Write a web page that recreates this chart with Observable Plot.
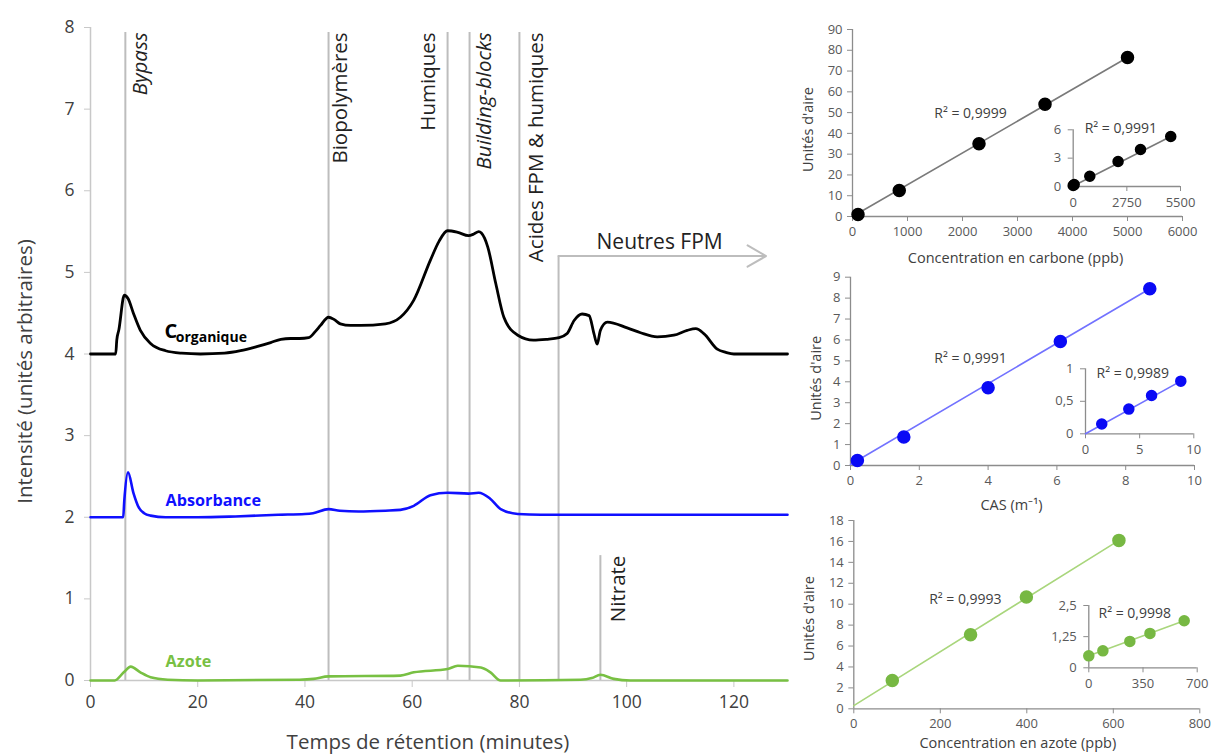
<!DOCTYPE html>
<html><head><meta charset="utf-8">
<script src="https://cdn.jsdelivr.net/npm/d3@7"></script>
<script src="https://cdn.jsdelivr.net/npm/@observablehq/plot@0.6"></script>
<style>
body{margin:0;background:#fff;}
#fig{position:relative;width:1211px;height:755px;overflow:hidden;background:#fff;}
#fig svg{position:absolute;overflow:visible;}
</style></head><body><div id="fig"></div>
<script>
// ---------- Chromatogram data (time in minutes, intensity in arbitrary units) ----------
const corgT = [0, 4.7, 4.9, 5.3, 6.3, 7.0, 8.0, 9.3, 11.2, 14, 17, 20.5, 25, 28, 31, 33.6, 35.5, 37.3, 39, 40.7, 42, 42.9, 44.4, 45.5, 46.6, 48.5, 50.4, 55, 57.8, 60.3, 63.4, 65, 66.6, 68.5, 70.5, 71.5, 72.4, 73.5, 74.1, 75.6, 77.1, 79.7, 82.6, 85, 87.4, 88.9, 90.2, 91.7, 93.0, 93.9, 94.5, 95.1, 96.4, 100.1, 102.6, 105.7, 108.8, 111.3, 112.9, 114.4, 116.9, 118.5, 120, 130];
const corgV = [4.0, 4.0, 4.17, 4.3, 4.72, 4.68, 4.5, 4.29, 4.13, 4.04, 4.01, 4.0, 4.01, 4.04, 4.09, 4.14, 4.18, 4.19, 4.19, 4.2, 4.28, 4.35, 4.45, 4.42, 4.37, 4.35, 4.35, 4.37, 4.45, 4.66, 5.15, 5.38, 5.51, 5.49, 5.45, 5.47, 5.5, 5.42, 5.31, 4.86, 4.45, 4.23, 4.17, 4.18, 4.2, 4.25, 4.41, 4.49, 4.47, 4.25, 4.12, 4.29, 4.39, 4.32, 4.26, 4.21, 4.23, 4.29, 4.31, 4.25, 4.06, 4.02, 4.0, 4.0];
const absT = [0, 6.1, 6.3, 7.0, 8.0, 9.0, 10.0, 11.2, 14, 20, 27, 35, 40, 41.5, 44.4, 46.5, 50, 55, 57.8, 60.3, 63.4, 66.6, 70.5, 72.4, 74.5, 76.5, 79.7, 84, 130];
const absV = [2.0, 2.0, 2.2, 2.55, 2.3, 2.12, 2.05, 2.02, 2.0, 2.0, 2.01, 2.03, 2.04, 2.05, 2.1, 2.08, 2.07, 2.08, 2.09, 2.14, 2.27, 2.3, 2.29, 2.3, 2.23, 2.1, 2.04, 2.03, 2.03];
const azoT = [0, 4.5, 6.2, 7.5, 9.3, 11.2, 14.4, 20, 39, 41.6, 44.4, 57.8, 60.3, 66.6, 68.5, 72.8, 74.6, 76.5, 91.4, 93.5, 95.1, 97.6, 100.7, 130];
const azoV = [0, 0, 0.1, 0.17, 0.1, 0.04, 0.01, 0, 0.01, 0.02, 0.05, 0.06, 0.1, 0.14, 0.18, 0.16, 0.1, 0.0, 0.01, 0.03, 0.07, 0.02, 0.0, 0.0];

// Fraction boundaries and labels
const fractionNames = ["Bypass", "Biopolymères", "Humiques", "Building-blocks", "Acides FPM & humiques"];
const fractionTimes = [6.5, 44.4, 66.6, 70.7, 80.0];
const fractionLabelTimes = [9.3, 46.6, 63.1, 73.5, 83.2];
const fractionItalic = [true, false, false, true, false];
const fractionTop = 7.94;
const neutresLabel = "Neutres FPM";
const neutresTime = 87.3, neutresArrowEnd = 126, neutresLevel = 5.2;
const nitrateLabel = "Nitrate";
const nitrateTime = 95.1, nitrateTop = 1.53, nitrateLabelTime = 98.5;

const mainXTicks = [0, 20, 40, 60, 80, 100, 120];
const mainYTicks = [0, 1, 2, 3, 4, 5, 6, 7, 8];

// ---------- Calibration data ----------
const carbonX = [100, 850, 2300, 3500, 5000];
const carbonY = [1.0, 12.5, 35, 54, 76.5];
const carbonFitX = [0, 5000], carbonFitY = [0, 76.5];
const carbonInsetX = [0, 50, 850, 2300, 3450, 5000];
const carbonInsetY = [0.1, 0.2, 1.09, 2.65, 3.92, 5.29];
const carbonInsetFitX = [0, 5000], carbonInsetFitY = [0.05, 5.29];

const casX = [0.2, 1.55, 4.0, 6.1, 8.7];
const casY = [0.24, 1.36, 3.72, 5.93, 8.45];
const casFitX = [0, 8.7], casFitY = [0.05, 8.45];
const casInsetX = [1.5, 4.0, 6.1, 8.8];
const casInsetY = [0.15, 0.38, 0.59, 0.81];
const casInsetFitX = [0, 8.8], casInsetFitY = [0, 0.81];

const azoteX = [89, 270, 399, 613];
const azoteY = [2.7, 7.07, 10.68, 16.1];
const azoteFitX = [0, 613], azoteFitY = [0.3, 16.1];
const azoteInsetX = [0, 91, 265, 395, 616];
const azoteInsetY = [0.48, 0.68, 1.06, 1.38, 1.89];
const azoteInsetFitX = [0, 616], azoteInsetFitY = [0.48, 1.89];

const FONT = "Open Sans";
const fig = document.getElementById("fig");
const zip = (xs, ys) => xs.map((x, i) => ({x, y: ys[i]}));
const fr = d => String(d).replace(".", ",");
function place(svg, left, top) {
  svg.style.left = left + "px"; svg.style.top = top + "px";
  fig.appendChild(svg);
}

// ---------- Main chromatogram ----------
const fractions = fractionNames.map((n, i) => ({n, t: fractionTimes[i], lt: fractionLabelTimes[i], it: fractionItalic[i]}));
const LBL = 20.5;
const main = Plot.plot({
  width: 800, height: 755,
  marginLeft: 90, marginRight: 13, marginTop: 27, marginBottom: 75,
  x: {domain: [0, 130]},
  y: {domain: [0, 8]},
  style: {fontFamily: FONT, background: "transparent", overflow: "visible"},
  marks: [
    Plot.ruleX(fractions, {x: "t", y1: 0, y2: fractionTop, stroke: "#bdbdbd", strokeWidth: 2}),
    Plot.ruleX([nitrateTime], {y1: 0, y2: nitrateTop, stroke: "#bdbdbd", strokeWidth: 2}),
    Plot.ruleX([neutresTime], {y1: 0, y2: neutresLevel, stroke: "#bdbdbd", strokeWidth: 2}),
    Plot.arrow([0], {x1: neutresTime, y1: neutresLevel, x2: neutresArrowEnd, y2: neutresLevel, stroke: "#bdbdbd", strokeWidth: 2, headLength: 16, bend: 0, insetStart: 0, insetEnd: 0}),
    Plot.ruleY([0], {x1: 0, x2: 130, stroke: "#c8c8c8", strokeWidth: 1.5}),
    Plot.ruleX([0], {y1: 0, y2: 8, stroke: "#c8c8c8", strokeWidth: 1.5}),
    Plot.axisX({ticks: mainXTicks, tickSize: 7, tickPadding: 8, stroke: "#c8c8c8", color: "#404040", fontSize: 17.5, label: null}),
    Plot.axisY({ticks: mainYTicks, tickSize: 6, tickPadding: 10, stroke: "#c8c8c8", color: "#404040", fontSize: 17.5, label: null}),
    Plot.text(["Intensité (unités arbitraires)"], {frameAnchor: "left", textAnchor: "middle", rotate: -90, dx: -65, dy: 17.5, fontSize: 20.5, fill: "#404040"}),
    Plot.text(["Temps de rétention (minutes)"], {frameAnchor: "bottom", textAnchor: "middle", lineAnchor: "middle", dx: -11, dy: 62, fontSize: 20.5, fill: "#404040"}),
    Plot.line(zip(azoT, azoV), {x: "x", y: "y", stroke: "#78c043", strokeWidth: 2.6, curve: "monotone-x"}),
    Plot.line(zip(absT, absV), {x: "x", y: "y", stroke: "#1010ff", strokeWidth: 2.6, curve: "monotone-x"}),
    Plot.line(zip(corgT, corgV), {x: "x", y: "y", stroke: "#000", strokeWidth: 2.8, curve: "monotone-x"}),
    Plot.text(fractions.filter(d => d.it), {x: "lt", y: fractionTop, text: "n", rotate: -90, textAnchor: "end", fontSize: LBL, fontStyle: "italic", fill: "#222"}),
    Plot.text(fractions.filter(d => !d.it), {x: "lt", y: fractionTop, text: "n", rotate: -90, textAnchor: "end", fontSize: LBL, fill: "#222"}),
    Plot.text([nitrateLabel], {x: nitrateLabelTime, y: nitrateTop, rotate: -90, textAnchor: "end", fontSize: LBL, fill: "#222"}),
    Plot.text([neutresLabel], {x: (neutresTime + neutresArrowEnd) / 2 - 0.5, y: neutresLevel, lineAnchor: "bottom", dy: -7, fontSize: 21, fill: "#222"}),
    Plot.text(["C"], {x: 13.8, y: 4.2, lineAnchor: "bottom", textAnchor: "start", fontSize: 20, fontWeight: "bold", fill: "#000"}),
    Plot.text(["organique"], {x: 15.9, y: 4.15, lineAnchor: "bottom", textAnchor: "start", fontSize: 14, fontWeight: "bold", fill: "#000"}),
    Plot.text(["Absorbance"], {x: 14, y: 2.14, lineAnchor: "bottom", textAnchor: "start", fontSize: 16.2, fontWeight: "bold", fill: "#1010ff"}),
    Plot.text(["Azote"], {x: 14, y: 0.16, lineAnchor: "bottom", textAnchor: "start", fontSize: 16.2, fontWeight: "bold", fill: "#78c043"})
  ]
});
place(main, 0, 0);

// ---------- Calibration panels ----------
function panel(o) {
  const ax = {stroke: "#8c8c8c", color: "#595959", fontSize: 13};
  const marks = [
    Plot.ruleX([o.xDomain[0]], {y1: o.yDomain[0], y2: o.yDomain[1], stroke: "#8c8c8c", strokeWidth: 1.3}),
    Plot.ruleY([o.yDomain[0]], {x1: o.xDomain[0], x2: o.xDomain[1], stroke: "#8c8c8c", strokeWidth: 1.3}),
    Plot.axisX({...ax, ticks: o.xTicks, tickSize: 5, tickPadding: o.xPad || 5, tickFormat: fr, label: null}),
    Plot.axisY({...ax, ticks: o.yTicks, tickSize: 5, tickPadding: o.yPad || 5, tickFormat: fr, label: null}),
    Plot.line(zip(o.fitX, o.fitY), {x: "x", y: "y", stroke: o.line, strokeWidth: 1.6}),
    Plot.dot(zip(o.xs, o.ys), {x: "x", y: "y", r: o.r, fill: o.dot, stroke: o.dot}),
    Plot.text([o.r2], {x: o.r2x, y: o.r2y, fontSize: 14, fill: "#404040"})
  ];
  if (o.xLabel) marks.push(Plot.text([o.xLabel], {frameAnchor: "bottom", textAnchor: "middle", lineAnchor: "middle", dx: o.xLdx || 0, dy: o.xLdy, fontSize: 14.5, fill: "#404040"}));
  if (o.yLabel) marks.push(Plot.text([o.yLabel], {frameAnchor: "left", textAnchor: "middle", rotate: -90, dx: -o.yLdx, dy: o.yLdy || 0, fontSize: 14.5, fill: "#404040"}));
  const svg = Plot.plot({
    width: o.width, height: o.height,
    marginLeft: o.mL, marginRight: o.mR, marginTop: o.mT, marginBottom: o.mB,
    x: {domain: o.xDomain}, y: {domain: o.yDomain},
    style: {fontFamily: FONT, background: "transparent", overflow: "visible"},
    marks
  });
  place(svg, o.left, o.top);
}

// Carbon
panel({left: 790, top: 0, width: 421, height: 265, mL: 62, mR: 29, mT: 29, mB: 49,
  xDomain: [0, 6000], yDomain: [0, 90], xTicks: d3.range(0, 6001, 1000), yTicks: d3.range(0, 91, 10),
  xs: carbonX, ys: carbonY, fitX: carbonFitX, fitY: carbonFitY, dot: "#000", line: "#7a7a7a", r: 6,
  r2: "R² = 0,9999", r2x: 2145, r2y: 49.5,
  xLabel: "Concentration en carbone (ppb)", xLdy: 42, xLdx: -2, yLabel: "Unités d'aire", yLdx: 44, yLdy: 6.5});
panel({left: 1030, top: 110, width: 181, height: 110, mL: 42.7, mR: 31, mT: 19.3, mB: 34,
  xDomain: [0, 5500], yDomain: [0, 6], xTicks: [0, 2750, 5500], yTicks: [0, 3, 6], xPad: 6, yPad: 7,
  xs: carbonInsetX, ys: carbonInsetY, fitX: carbonInsetFitX, fitY: carbonInsetFitY, dot: "#000", line: "#7a7a7a", r: 5,
  r2: "R² = 0,9991", r2x: 2444, r2y: 6.1});

// Absorbance (CAS)
panel({left: 790, top: 265, width: 421, height: 250, mL: 60, mR: 17, mT: 11.7, mB: 50,
  xDomain: [0, 10], yDomain: [0, 9], xTicks: d3.range(0, 11, 2), yTicks: d3.range(0, 10, 1),
  xs: casX, ys: casY, fitX: casFitX, fitY: casFitY, dot: "#0a0af5", line: "#7272ff", r: 6,
  r2: "R² = 0,9991", r2x: 3.49, r2y: 5.12,
  xLabel: "CAS (m⁻¹)", xLdx: -11, xLdy: 40, yLabel: "Unités d'aire", yLdx: 34, yLdy: 7});
panel({left: 1040, top: 350, width: 171, height: 115, mL: 45, mR: 17.7, mT: 18.3, mB: 31.7,
  xDomain: [0, 10], yDomain: [0, 1], xTicks: [0, 5, 10], yTicks: [0, 0.5, 1], xPad: 6, yPad: 7,
  xs: casInsetX, ys: casInsetY, fitX: casInsetFitX, fitY: casInsetFitY, dot: "#0a0af5", line: "#7272ff", r: 5,
  r2: "R² = 0,9989", r2x: 4.36, r2y: 0.93});

// Azote
panel({left: 790, top: 515, width: 421, height: 240, mL: 63.3, mR: 11.7, mT: 5, mB: 46.7,
  xDomain: [0, 800], yDomain: [0, 18], xTicks: d3.range(0, 801, 200), yTicks: d3.range(0, 19, 2),
  xs: azoteX, ys: azoteY, fitX: azoteFitX, fitY: azoteFitY, dot: "#77b843", line: "#a9d67c", r: 6,
  r2: "R² = 0,9993", r2x: 258, r2y: 10.46,
  xLabel: "Concentration en azote (ppb)", xLdx: -9, xLdy: 35, yLabel: "Unités d'aire", yLdx: 44, yLdy: 4});
panel({left: 1040, top: 590, width: 171, height: 120, mL: 48.3, mR: 14.3, mT: 15, mB: 42.7,
  xDomain: [0, 700], yDomain: [0, 2.5], xTicks: [0, 350, 700], yTicks: [0, 1.25, 2.5], xPad: 6, yPad: 7,
  xs: azoteInsetX, ys: azoteInsetY, fitX: azoteInsetFitX, fitY: azoteInsetFitY, dot: "#77b843", line: "#a9d67c", r: 5,
  r2: "R² = 0,9998", r2x: 297, r2y: 2.16});
</script>
</body></html>
